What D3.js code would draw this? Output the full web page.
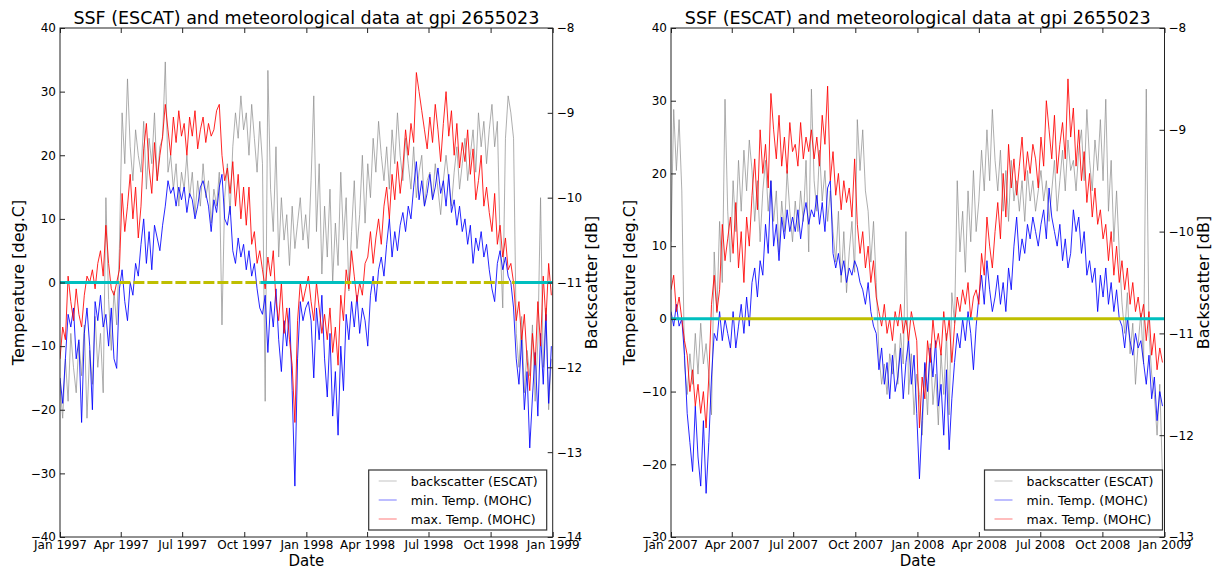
<!DOCTYPE html>
<html>
<head>
<meta charset="utf-8">
<script src="https://cdn.jsdelivr.net/npm/d3@7"></script>
<style>
  body { margin: 0; background: #fff; }
  text { font-family: "DejaVu Sans", sans-serif; fill: #000; }
</style>
</head>
<body>
<script>
// ---- data (one sample every 4 days) ----
var sampleStepDays = 4;
var chartTitle = "SSF (ESCAT) and meteorological data at gpi 2655023";
var seriesNames = ["backscatter (ESCAT)", "min. Temp. (MOHC)", "max. Temp. (MOHC)"];

// left panel 1997-1998
var startA = "1997-01-01", endA = "1999-01-01";
var dateTicksA = ["Jan 1997","Apr 1997","Jul 1997","Oct 1997","Jan 1998","Apr 1998","Jul 1998","Oct 1998","Jan 1999"];
var tempTicksA = [40, 30, 20, 10, 0, -10, -20, -30, -40];
var sigTicksA = [-8, -9, -10, -11, -12, -13, -14];
var tminA = [
  -15,-19,-12,-5,-7,-4,-12,-9, -22,-8,-4,-10,-20,-3,-6, -2,-7,-5,-10,-4,-12,-13.5,-1,
  2,-3,-6,0,-2,3,1, 6,10,3,8,2,9,7,5, 9,12,16,14,15,12,15,13,
  15,11,14,13,10,12,15, 16,14,12,8,13,11,15,17, 10,9,12,5,3,7,4,6,
  2,5,1,3,-1,-4,-5, -2,-11,-3,-7,-1,-9,-14,-6, -10,-4,-17,-32,-12,-3,-6,-4,
  -3,-6,-15,-4,-9,-2,-12, -18,-8,-21,-14,-24,-10,-17, -5,-9,-3,-7,-2,-8,-4,-6,
  -10,-2,1,-3,2,4,1, 6,10,4,8,5,9,11,8, 12,10,15,19,13,16,12,14,
  17,13,15,18,14,16,12, 17,11,13,9,12,8,10,6, 9,3,7,5,8,4,6,
  2,-1,-3,3,5,2,4,1, 0,-4,-12,-16,-9,-20,-14, -26,-18,-11,-21,-8,-16,-5,-19,-10
];
var tmaxA = [
  -12,-7,-9,1,-3,-6,-1,-5, -7,-2,1,0,2,-1,3, 5,1,9,3,-1,-2,0,2,
  14,8,12,17,10,15,7, 12,21,25,18,14,22,16,20, 23,28,24,20,26,22,27,23,
  25,20,26,23,27,21,24, 26,22,25,23,24,27,28,20, 16,18,14,19,12,17,10,15,
  9,15,6,8,3,5,2, -1,4,1,5,-3,-6,0,-8, -4,-9,-13,-22,-6,0,-3,-1,
  1,-3,-6,0,-4,-8,-5, -9,-4,-11,-7,-13,-2,-6, 2,-1,5,1,-3,0,-2,3,
  4,8,3,7,10,6,12, 15,10,17,13,19,14,18,24, 20,25,22,33,30,27,24,21,
  26,22,28,24,19,25,30, 23,27,20,25,18,22,19,24, 17,21,13,16,20,12,15,
  11,8,14,6,9,4,7,2, 3,0,-6,-3,-9,-5,-12, -17,-8,-13,-3,-10,1,-6,3,-2
];
var sigA = [
  -12.2,-12.6,-11.9,-12.4,-11.6,-12.0,-12.3,-11.7, -12.1,-11.5,-12.6,-11.8,-12.2,-11.4,-12.0,
  -11.6,-12.3,-10.0,-11.2,-11.8,-11.1,-11.5,-10.6, -9.0,-9.6,-8.6,-9.4,-9.8,-9.2,-9.5,
  -9.7,-9.1,-9.9,-9.3,-9.6,-9.0,-9.8,-9.4, -9.3,-8.4,-9.7,-9.5,-9.9,-9.6,-10.1,-9.7,
  -9.9,-9.5,-10.0,-9.7,-10.2,-9.8,-10.1, -9.6,-10.0,-9.8,-10.3,-9.9,-10.1,-9.7,-11.5,
  -10.0,-9.6,-10.2,-9.4,-9.0,-9.3,-8.8,-9.2, -9.0,-9.5,-8.9,-9.3,-9.7,-9.1,-9.6,
  -12.4,-8.5,-9.9,-10.4,-9.4,-10.7,-10.0,-10.5, -10.2,-10.8,-10.1,-10.6,-10.3,-10.0,-10.5,-10.2,
  -10.6,-9.8,-8.8,-10.4,-9.6,-10.9,-10.1, -10.7,-9.9,-11.0,-10.3,-10.8,-9.7,-10.5,
  -10.0,-11.1,-10.4,-9.8,-10.6,-10.2,-9.5,-10.3, -9.6,-10.0,-9.3,-9.7,-9.1,-9.5,-9.8,
  -9.4,-9.9,-9.2,-9.6,-9.0,-9.5,-9.8,-9.3, -9.6,-9.9,-9.4,-10.0,-9.7,-9.5,-10.1,-9.8,
  -9.7,-10.0,-9.6,-9.9,-10.2,-9.8,-9.5, -9.8,-10.1,-9.7,-9.4,-9.9,-9.6,-9.3,-9.8,
  -9.5,-9.2,-9.7,-9.0,-9.4,-9.1,-9.6, -9.2,-8.9,-9.4,-9.1,-10.5,-11.3,-9.3,-8.8,
  -9.0,-9.3,-11.6,-12.0,-11.4,-12.3,-11.8, -12.1,-11.5,-12.4,-11.7,-10.0,-12.0,-11.3,-12.5,-11.9
];
// soil state flag drawn on the 0 degree line
var stateStartA = ["1997-01-01","1997-03-30","1997-10-25","1998-02-27","1998-03-09","1998-04-08","1998-11-06"];
var stateA = ["frozen","unfrozen","frozen","unfrozen","frozen","unfrozen","frozen"];

// right panel 2007-2008
var startB = "2007-01-01", endB = "2009-01-01";
var dateTicksB = ["Jan 2007","Apr 2007","Jul 2007","Oct 2007","Jan 2008","Apr 2008","Jul 2008","Oct 2008","Jan 2009"];
var tempTicksB = [40, 30, 20, 10, 0, -10, -20, -30];
var sigTicksB = [-8, -9, -10, -11, -12, -13];
var tminB = [
  1,-1,2,-1,0,-5,-13,-17, -21,-12,-19,-23,-14,-24,-17, -8,-2,-3,1,-3,0,-2,-4,
  1,-4,-1,2,-2,3,-1, 5,7,3,8,6,13,9,19, 10,13,8,14,11,15,12,14,
  12,15,11,14,16,13,15, 14,17,13,16,12,18,19,9, 7,9,6,8,5,7,6,8,
  7,5,4,2,5,1,-1, -2,-7,-4,-9,-6,-11,-5,-10, -8,-4,-11,-6,-3,-9,-5,-13,
  -22,-14,-6,-10,-4,-8,-3, -12,-9,-16,-7,-18,-11,-6, -2,-4,0,-3,1,-2,-7,-1,
  3,6,2,8,4,1,3, 6,2,5,1,7,4,10,14, 8,11,9,13,11,14,12,10,
  13,15,11,18,14,12,10, 13,8,11,7,9,15,12,14, 9,12,6,8,5,7,1,
  6,3,7,2,5,1,4,0, -1,-4,0,-3,-5,-2,-4, -3,-6,-9,-5,-11,-8,-14,-10,-12
];
var tmaxB = [
  4,6,1,3,0,-3,-5,-10, -7,-12,-9,-13,-10,-15,-8, 2,6,1,4,13,8,11,14,
  9,16,7,12,5,14,10, 17,22,15,26,20,24,18,31, 26,22,28,21,25,20,27,23,
  24,21,27,22,25,23,26, 22,25,21,28,24,32,19,23, 17,20,15,19,16,18,14,22,
  13,9,12,7,10,5,8, 3,1,-1,2,-2,0,-3,1, -1,2,-2,0,-3,1,-1,-3,
  -15,-8,-11,-3,-6,0,-4, -2,-5,1,-3,0,-6,-1, 3,1,4,2,5,0,3,4,
  2,9,6,14,10,7,12, 16,11,20,14,24,18,22,17, 21,25,19,23,20,24,22,18,
  25,21,30,26,22,28,20, 24,27,22,33,25,29,21,26, 19,23,16,20,14,18,13,
  15,11,13,8,12,6,10,5, 8,4,7,2,5,1,3, 0,2,-3,1,-5,-2,-7,-4,-6
];
var sigB = [
  -10.1,-8.8,-9.4,-8.9,-9.6,-11.3,-11.6,-11.2, -11.5,-11.0,-11.4,-10.9,-11.3,-11.1,-11.4,
  -11.8,-10.2,-10.8,-9.9,-10.5,-8.7,-9.8,-10.3, -9.5,-10.0,-9.3,-9.8,-9.2,-9.6,-9.1,
  -9.4,-9.9,-9.5,-10.1,-9.6,-9.3,-9.8,-9.5, -9.9,-9.6,-10.2,-9.7,-10.0,-9.4,-9.8,-10.1,
  -9.7,-10.0,-9.6,-9.9,-9.3,-10.2,-8.6, -9.5,-9.8,-9.2,-9.7,-9.4,-9.9,-9.6,-10.0,
  -10.3,-9.8,-10.5,-10.0,-10.6,-10.2,-9.9,-10.4, -8.9,-9.4,-9.0,-9.6,-9.8,-10.3,-9.9,
  -10.5,-11.2,-11.5,-11.3,-11.6,-11.2,-11.4,-11.1, -11.5,-11.0,-11.3,-10.0,-11.6,-11.2,-11.8,-11.4,
  -11.6,-12.0,-11.3,-11.8,-11.1,-11.7,-11.4, -11.9,-11.2,-11.6,-11.0,-11.8,-10.6,-10.9,
  -9.5,-10.2,-9.8,-10.4,-9.6,-10.1,-9.4,-10.0, -9.7,-9.2,-9.6,-9.0,-9.5,-8.8,-9.3,
  -9.6,-9.2,-9.8,-9.4,-9.9,-9.3,-9.7,-9.5, -9.8,-9.5,-9.9,-9.4,-9.7,-9.5,-9.8,-9.6,
  -9.4,-9.7,-9.5,-9.9,-9.6,-9.3,-9.8, -9.5,-9.2,-9.6,-9.1,-9.4,-9.3,-9.6,-9.2,
  -9.0,-9.5,-8.8,-9.3,-9.6,-9.1,-9.4, -8.9,-9.5,-8.7,-9.8,-9.3,-10.1,-9.6,-10.2,
  -10.7,-11.0,-10.6,-11.2,-10.9,-11.5,-11.1, -10.8,-11.3,-8.6,-11.0,-11.4,-11.6,-12.0,-11.5,-12.4
];
var stateStartB = ["2007-01-01","2007-03-14","2007-10-28","2008-03-24","2008-11-03"];
var stateB = ["frozen","unfrozen","frozen","unfrozen","frozen"];

// ---- drawing ----
var W = 1213, H = 569;
var svg = d3.select("body").append("svg")
  .attr("width", W)
  .attr("height", H);

var parseDay = d3.timeParse("%Y-%m-%d");
var parseTick = d3.timeParse("%b %Y");
var stateColor = {frozen: "#00bfbf", unfrozen: "#bfbf00"};

var panels = [
  {x0: 60, x1: 552.7, y0: 28, y1: 537, start: startA, end: endA, ticks: dateTicksA,
   tTicks: tempTicksA, sTicks: sigTicksA, tmin: tminA, tmax: tmaxA, sig: sigA,
   stStart: stateStartA, st: stateA, dashed: true, legendPad: 6},
  {x0: 671, x1: 1164.5, y0: 28, y1: 537, start: startB, end: endB, ticks: dateTicksB,
   tTicks: tempTicksB, sTicks: sigTicksB, tmin: tminB, tmax: tmaxB, sig: sigB,
   stStart: stateStartB, st: stateB, dashed: false, legendPad: 2}
];

panels.forEach(function(p, pi){
  var t0 = parseDay(p.start), t1 = parseDay(p.end);
  var x = d3.scaleTime().domain([t0, t1]).range([p.x0, p.x1]);
  var yT = d3.scaleLinear()
    .domain([d3.min(p.tTicks), d3.max(p.tTicks)])
    .range([p.y1, p.y0]);
  var yS = d3.scaleLinear()
    .domain([d3.min(p.sTicks), d3.max(p.sTicks)])
    .range([p.y1, p.y0]);
  var dayOf = function(i){ return d3.timeDay.offset(t0, i * sampleStepDays); };

  var g = svg.append("g").attr("class", "panel" + pi);
  var clipId = "clip" + pi;
  g.append("clipPath").attr("id", clipId)
    .append("rect")
    .attr("x", p.x0).attr("y", p.y0)
    .attr("width", p.x1 - p.x0).attr("height", p.y1 - p.y0);
  var plot = g.append("g").attr("clip-path", "url(#" + clipId + ")");

  // backscatter (right axis)
  var sigLine = d3.line()
    .defined(function(d){ return d != null; })
    .x(function(d, i){ return x(dayOf(i)); })
    .y(function(d){ return yS(d); });
  plot.append("path")
    .datum(p.sig)
    .attr("d", sigLine)
    .attr("fill", "none")
    .attr("stroke", "#8c8c8c")
    .attr("stroke-opacity", 0.7)
    .attr("stroke-width", 1);

  // temperatures (left axis)
  var tLine = d3.line()
    .x(function(d, i){ return x(dayOf(i)); })
    .y(function(d){ return yT(d); });
  plot.append("path")
    .datum(p.tmin)
    .attr("d", tLine)
    .attr("fill", "none")
    .attr("stroke", "#0000ff")
    .attr("stroke-opacity", 0.85)
    .attr("stroke-width", 1);
  plot.append("path")
    .datum(p.tmax)
    .attr("d", tLine)
    .attr("fill", "none")
    .attr("stroke", "#ff0000")
    .attr("stroke-opacity", 0.85)
    .attr("stroke-width", 1);

  // frozen / unfrozen flag on the zero line
  var segs = p.stStart.map(function(s, i){
    return {
      a: parseDay(s),
      b: i < p.stStart.length - 1 ? parseDay(p.stStart[i + 1]) : t1,
      state: p.st[i]
    };
  });
  plot.selectAll(".state")
    .data(segs)
    .enter()
    .append("line")
    .attr("class", "state")
    .attr("x1", function(d){ return x(d.a); })
    .attr("x2", function(d){ return x(d.b); })
    .attr("y1", yT(0))
    .attr("y2", yT(0))
    .attr("stroke", function(d){ return stateColor[d.state]; })
    .attr("stroke-width", 3)
    .attr("stroke-dasharray", function(d){
      return (p.dashed && d.state == "unfrozen") ? "11,3" : null;
    });

  // frame
  g.append("rect")
    .attr("x", p.x0).attr("y", p.y0)
    .attr("width", p.x1 - p.x0).attr("height", p.y1 - p.y0)
    .attr("fill", "none")
    .attr("stroke", "#222")
    .attr("stroke-width", 1);

  // axes
  var tickDates = p.ticks.map(function(s){ return parseTick(s); });
  var xAxis = d3.axisBottom(x)
    .tickValues(tickDates)
    .tickSizeInner(-5).tickSizeOuter(0).tickPadding(3.5)
    .tickFormat(d3.timeFormat("%b %Y"));
  var xAxisTop = d3.axisTop(x)
    .tickValues(tickDates)
    .tickSizeInner(-5).tickSizeOuter(0)
    .tickFormat("");
  var fmt = d3.format("d");
  var yAxisL = d3.axisLeft(yT).tickValues(p.tTicks)
    .tickSizeInner(-5).tickSizeOuter(0).tickPadding(4).tickFormat(fmt);
  var yAxisR = d3.axisRight(yS).tickValues(p.sTicks)
    .tickSizeInner(-5).tickSizeOuter(0).tickPadding(4).tickFormat(fmt);

  var axes = [
    g.append("g").attr("transform", "translate(0," + p.y1 + ")").call(xAxis),
    g.append("g").attr("transform", "translate(0," + p.y0 + ")").call(xAxisTop),
    g.append("g").attr("transform", "translate(" + p.x0 + ",0)").call(yAxisL),
    g.append("g").attr("transform", "translate(" + p.x1 + ",0)").call(yAxisR)
  ];
  axes.forEach(function(a){
    a.select(".domain").remove();
    a.selectAll("line").attr("stroke", "#222");
    a.selectAll("text")
      .attr("fill", "#000")
      .style("font-family", "'DejaVu Sans', sans-serif")
      .style("font-size", "12px");
  });

  var cx = (p.x0 + p.x1) / 2, cy = (p.y0 + p.y1) / 2;
  // title
  g.append("text")
    .attr("x", cx).attr("y", 24)
    .attr("text-anchor", "middle")
    .style("font-size", "17.5px")
    .text(chartTitle);
  // axis labels
  g.append("text")
    .attr("x", cx).attr("y", 566)
    .attr("text-anchor", "middle")
    .style("font-size", "15px")
    .text("Date");
  g.append("text")
    .attr("transform", "translate(" + (p.x0 - 36) + "," + cy + ") rotate(-90)")
    .attr("text-anchor", "middle")
    .style("font-size", "16px")
    .text("Temperature [deg.C]");
  g.append("text")
    .attr("transform", "translate(" + (p.x1 + 44.5) + "," + cy + ") rotate(-90)")
    .attr("text-anchor", "middle")
    .style("font-size", "16px")
    .text("Backscatter [dB]");

  // legend
  var lw = 178, lh = 60;
  var lx = p.x1 - p.legendPad - lw, ly = p.y1 - 7 - lh;
  var lg = g.append("g").attr("transform", "translate(" + lx + "," + ly + ")");
  lg.append("rect")
    .attr("width", lw).attr("height", lh)
    .attr("fill", "#fff")
    .attr("stroke", "#333")
    .attr("stroke-width", 1.2);
  var legColors = ["#8c8c8c", "#0000ff", "#ff0000"];
  var rows = lg.selectAll(".row")
    .data(seriesNames)
    .enter()
    .append("g")
    .attr("class", "row")
    .attr("transform", function(d, i){ return "translate(0," + (11 + i * 19) + ")"; });
  rows.append("line")
    .attr("x1", 10).attr("x2", 28)
    .attr("stroke", function(d, i){ return legColors[i]; })
    .attr("stroke-opacity", 0.35)
    .attr("stroke-width", 1.5);
  rows.append("text")
    .attr("x", 42).attr("y", 4.5)
    .style("font-size", "12.5px")
    .text(function(d){ return d; });
});
</script>
</body>
</html>
